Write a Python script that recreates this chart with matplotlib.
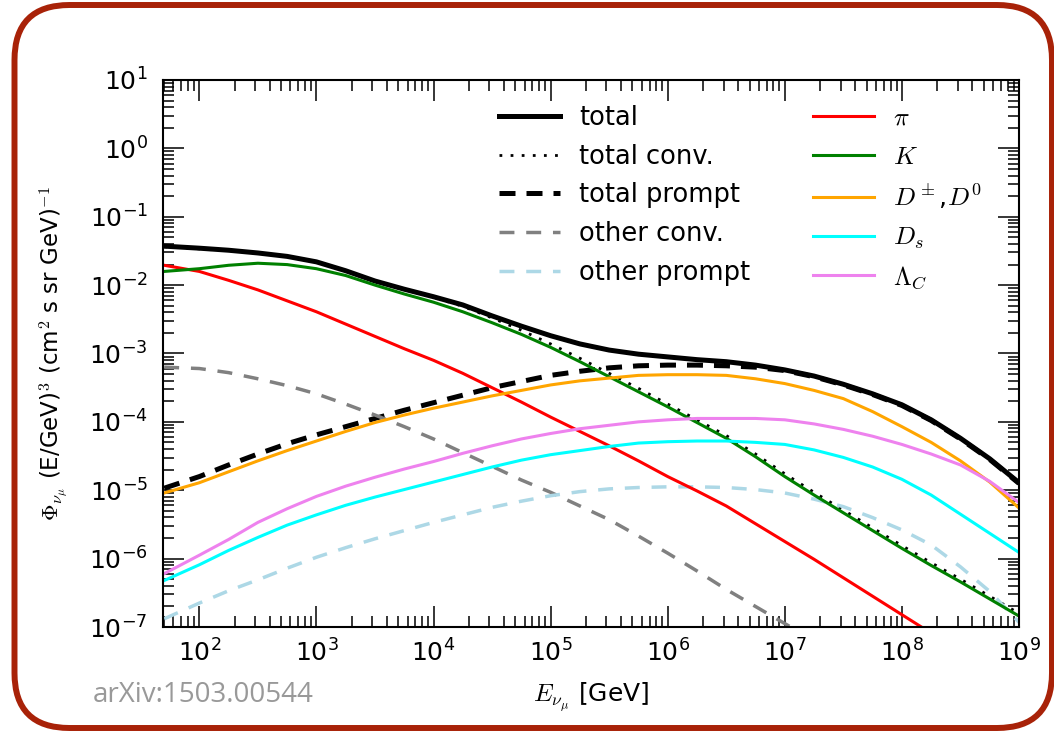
import matplotlib
matplotlib.use("Agg")
import matplotlib.pyplot as plt
import numpy as np
from matplotlib.patches import FancyBboxPatch
from matplotlib.ticker import FuncFormatter, LogLocator, FixedLocator, NullFormatter

plt.rcParams['mathtext.fontset'] = 'cm'
plt.rcParams['font.family'] = ['DejaVu Sans']

# log10 of neutrino energy in GeV
log_e = [1.7, 2.0, 2.25, 2.5, 2.75, 3.0, 3.25, 3.5, 3.75, 4.0, 4.25, 4.5, 4.75, 5.0, 5.25,
         5.5, 5.75, 6.0, 6.25, 6.5, 6.75, 7.0, 7.25, 7.5, 7.75, 8.0, 8.25, 8.5, 8.75, 9.0]

# log10 of E^3 weighted flux
total = [-1.43, -1.46, -1.49, -1.53, -1.58, -1.66, -1.79, -1.94, -2.06, -2.17, -2.29, -2.45, -2.60, -2.74, -2.86,
         -2.95, -3.01, -3.05, -3.09, -3.12, -3.17, -3.24, -3.33, -3.45, -3.59, -3.75, -3.97, -4.24, -4.54, -4.89]
total_conv = [-1.44, -1.47, -1.50, -1.53, -1.58, -1.66, -1.79, -1.94, -2.06, -2.18, -2.31, -2.48, -2.66, -2.86, -3.07,
              -3.29, -3.51, -3.74, -3.97, -4.20, -4.47, -4.76, -5.03, -5.29, -5.55, -5.81, -6.06, -6.30, -6.55, -6.80]
total_prompt = [-4.97, -4.80, -4.63, -4.47, -4.32, -4.19, -4.07, -3.95, -3.83, -3.72, -3.61, -3.50, -3.41, -3.32, -3.26,
                -3.21, -3.18, -3.17, -3.17, -3.18, -3.20, -3.25, -3.34, -3.46, -3.60, -3.76, -3.98, -4.25, -4.55, -4.90]
other_conv = [-3.20, -3.22, -3.28, -3.37, -3.47, -3.59, -3.74, -3.90, -4.07, -4.25, -4.45, -4.65, -4.85, -5.03, -5.23,
              -5.43, -5.67, -5.92, -6.18, -6.45, -6.70, -6.95, -7.20, -7.45, -7.70, -7.95, -8.20, -8.45, -8.70, -8.95]
other_prompt = [-6.88, -6.65, -6.47, -6.31, -6.14, -5.98, -5.84, -5.71, -5.59, -5.47, -5.36, -5.25, -5.16, -5.08, -5.02,
                -4.98, -4.96, -4.95, -4.95, -4.96, -4.99, -5.04, -5.13, -5.24, -5.40, -5.58, -5.80, -6.12, -6.48, -6.93]
pion = [-1.71, -1.80, -1.93, -2.07, -2.23, -2.39, -2.57, -2.75, -2.93, -3.10, -3.29, -3.50, -3.71, -3.93, -4.14,
        -4.35, -4.57, -4.80, -5.01, -5.23, -5.49, -5.75, -6.01, -6.28, -6.55, -6.82, -7.09, -7.36, -7.63, -7.90]
kaon = [-1.80, -1.76, -1.71, -1.68, -1.70, -1.76, -1.86, -2.00, -2.13, -2.25, -2.39, -2.55, -2.72, -2.91, -3.12,
        -3.34, -3.56, -3.78, -4.01, -4.24, -4.51, -4.80, -5.07, -5.33, -5.59, -5.85, -6.10, -6.34, -6.59, -6.84]
d_meson = [-5.04, -4.89, -4.73, -4.57, -4.42, -4.28, -4.14, -4.01, -3.90, -3.80, -3.71, -3.62, -3.54, -3.46, -3.40,
           -3.36, -3.32, -3.31, -3.31, -3.32, -3.37, -3.44, -3.54, -3.66, -3.85, -4.07, -4.30, -4.57, -4.88, -5.26]
d_s = [-6.32, -6.09, -5.88, -5.69, -5.51, -5.36, -5.22, -5.10, -4.99, -4.88, -4.77, -4.66, -4.56, -4.48, -4.42,
       -4.36, -4.31, -4.29, -4.28, -4.28, -4.30, -4.33, -4.41, -4.52, -4.66, -4.84, -5.07, -5.35, -5.63, -5.91]
lambda_c = [-6.22, -5.95, -5.72, -5.47, -5.27, -5.09, -4.94, -4.81, -4.69, -4.58, -4.46, -4.35, -4.25, -4.17, -4.10,
            -4.05, -4.00, -3.97, -3.95, -3.95, -3.95, -3.97, -4.03, -4.11, -4.21, -4.33, -4.47, -4.63, -4.87, -5.18]

x_decades = [2, 3, 4, 5, 6, 7, 8, 9]
y_decades = [-7, -6, -5, -4, -3, -2, -1, 0, 1]

E = 10 ** np.array(log_e)

fig = plt.figure(figsize=(10.54, 7.33), dpi=100)
ax = fig.add_axes([0.1547, 0.1446, 0.9668 - 0.1547, 0.8909 - 0.1446])

def flux(v):
    return 10 ** np.array(v)

ax.plot(E, flux(total), color='black', lw=3.6, label='total')
ax.plot(E, flux(total_conv), color='black', lw=2.0, linestyle=(0, (1, 3)), label='total conv.')
ax.plot(E, flux(total_prompt), color='black', lw=3.6, dashes=(3.2, 2.2), label='total prompt')
ax.plot(E, flux(other_conv), color='gray', lw=2.5, dashes=(4.3, 3.4), label='other conv.')
ax.plot(E, flux(other_prompt), color='lightblue', lw=2.5, dashes=(4.3, 3.4), label='other prompt')
ax.plot(E, flux(pion), color='red', lw=2.2, label=r'$\pi$')
ax.plot(E, flux(kaon), color='green', lw=2.2, label=r'$K$')
ax.plot(E, flux(d_meson), color='orange', lw=2.2, label=r'$D^\pm$,$D^0$')
ax.plot(E, flux(d_s), color='cyan', lw=2.2, label=r'$D_s$')
ax.plot(E, flux(lambda_c), color='violet', lw=2.2, label=r'$\Lambda_C$')

ax.set_xscale('log')
ax.set_yscale('log')
ax.set_xlim(49, 1e9)
ax.set_ylim(1e-7, 1e1)

fmt = FuncFormatter(lambda v, p: r'$\mathregular{10^{%d}}$' % round(np.log10(v)))
ax.xaxis.set_major_locator(FixedLocator([10.0 ** d for d in x_decades]))
ax.yaxis.set_major_locator(FixedLocator([10.0 ** d for d in y_decades]))
ax.xaxis.set_major_formatter(fmt)
ax.yaxis.set_major_formatter(fmt)
ax.xaxis.set_minor_locator(LogLocator(base=10, subs=np.arange(2, 10), numticks=20))
ax.yaxis.set_minor_locator(LogLocator(base=10, subs=np.arange(2, 10), numticks=20))
ax.xaxis.set_minor_formatter(NullFormatter())
ax.yaxis.set_minor_formatter(NullFormatter())
ax.tick_params(which='both', direction='in', top=True, right=True, width=1.1)
ax.tick_params(which='major', length=15, labelsize=18)
ax.tick_params(which='minor', length=8)
ax.tick_params(axis='x', which='major', pad=9)
ax.tick_params(axis='y', which='major', pad=11)
for s in ax.spines.values():
    s.set_linewidth(1.5)

ax.set_xlabel(r'$E_{\nu_\mu}$ [GeV]', fontsize=18, labelpad=10)
ax.set_ylabel(r'$\Phi_{\nu_\mu}$ (E/GeV)$^3$ (cm$^2$ s sr GeV)$^{-1}$', fontsize=16.5, labelpad=14)

ax.legend(ncol=2, loc='upper right', bbox_to_anchor=(0.983, 0.997), frameon=False,
          fontsize=18.5, handlelength=2.35, columnspacing=2.45, labelspacing=0.5, handletextpad=0.75)

fig.text(93 / 1054, 1 - 695 / 733, 'arXiv:1503.00544', fontsize=20, color='#999999',
         family='Open Sans', va='center', ha='left')

border = FancyBboxPatch((0.145, 0.05), 10.375, 7.23, boxstyle='round,pad=0,rounding_size=0.55',
                        transform=fig.dpi_scale_trans, fill=False, edgecolor='#a82208', lw=4.3,
                        clip_on=False)
fig.patches.append(border)

fig.savefig('out.png', dpi=100)
